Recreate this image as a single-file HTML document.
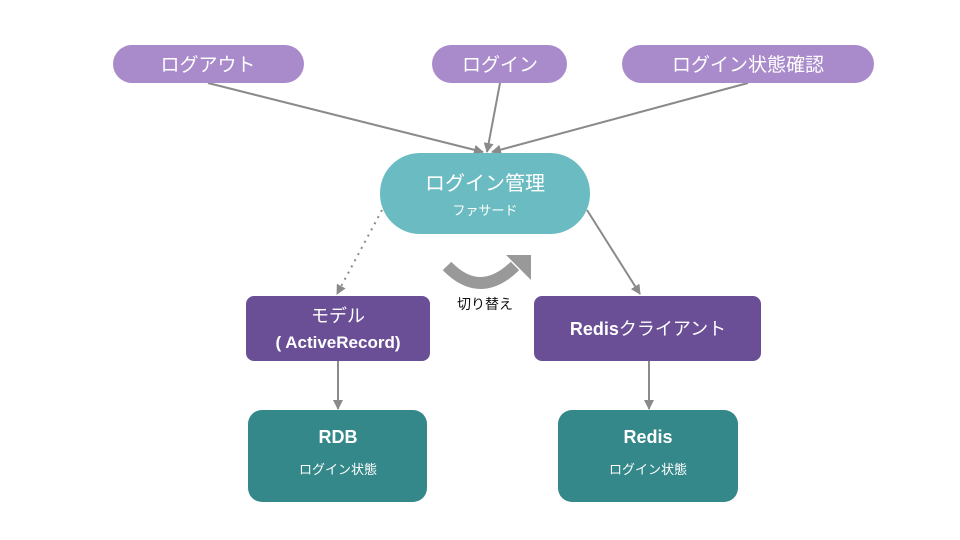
<!DOCTYPE html>
<html><head><meta charset="utf-8"><style>
html,body{margin:0;padding:0;background:#fff;}
svg{display:block;font-family:"Liberation Sans","Noto Sans CJK JP",sans-serif;}
</style></head><body>
<svg width="960" height="540" viewBox="0 0 960 540" xmlns="http://www.w3.org/2000/svg">
<defs>
<marker id="ah" markerWidth="10" markerHeight="10" refX="9" refY="5" orient="auto" markerUnits="userSpaceOnUse">
<path d="M0,0 L10,5 L0,10 z" fill="#8a8a8a"/>
</marker>
</defs>
<!-- connectors -->
<g stroke="#8a8a8a" stroke-width="2" fill="none">
<line x1="208" y1="83" x2="483" y2="152" marker-end="url(#ah)"/>
<line x1="500" y1="83" x2="487" y2="152" marker-end="url(#ah)"/>
<line x1="748" y1="83" x2="492" y2="152" marker-end="url(#ah)"/>
<line x1="382" y1="210" x2="337" y2="294" stroke-dasharray="2,5" marker-end="url(#ah)"/>
<line x1="587" y1="210" x2="640" y2="294" marker-end="url(#ah)"/>
<line x1="338" y1="361" x2="338" y2="409" marker-end="url(#ah)"/>
<line x1="649" y1="361" x2="649" y2="409" marker-end="url(#ah)"/>
</g>
<!-- top pills -->
<g fill="#a98bcb">
<rect x="113" y="45" width="191" height="38" rx="19"/>
<rect x="432" y="45" width="135" height="38" rx="19"/>
<rect x="622" y="45" width="252" height="38" rx="19"/>
</g>
<g fill="#fff" font-size="19" text-anchor="middle">
<text x="208" y="71">ログアウト</text>
<text x="500" y="71">ログイン</text>
<text x="748" y="71">ログイン状態確認</text>
</g>
<!-- facade -->
<rect x="380" y="153" width="210" height="81" rx="40" fill="#6bbcc2"/>
<text x="485" y="190" fill="#fff" font-size="20" text-anchor="middle">ログイン管理</text>
<text x="485" y="215" fill="#fff" font-size="13" text-anchor="middle">ファサード</text>
<!-- switch arrow -->
<path d="M447,266 Q480,300 515,266" stroke="#999" stroke-width="12" fill="none"/>
<path d="M506,255 L531,255 L531,280 z" fill="#999"/>
<text x="485" y="309" font-size="14" text-anchor="middle" fill="#111">切り替え</text>
<!-- middle boxes -->
<rect x="246" y="296" width="184" height="65" rx="8" fill="#6a4f97"/>
<text x="338" y="322" fill="#fff" font-size="18" text-anchor="middle">モデル</text>
<text x="338" y="348" fill="#fff" font-size="17" font-weight="bold" text-anchor="middle">( ActiveRecord)</text>
<rect x="534" y="296" width="227" height="65" rx="8" fill="#6a4f97"/>
<text x="648" y="335" fill="#fff" font-size="18" text-anchor="middle"><tspan font-weight="bold">Redis</tspan>クライアント</text>
<!-- bottom boxes -->
<rect x="248" y="410" width="179" height="92" rx="14" fill="#35888a"/>
<text x="338" y="443" fill="#fff" font-size="18" font-weight="bold" text-anchor="middle">RDB</text>
<text x="338" y="474" fill="#fff" font-size="13" text-anchor="middle">ログイン状態</text>
<rect x="558" y="410" width="180" height="92" rx="14" fill="#35888a"/>
<text x="648" y="443" fill="#fff" font-size="18" font-weight="bold" text-anchor="middle">Redis</text>
<text x="648" y="474" fill="#fff" font-size="13" text-anchor="middle">ログイン状態</text>
</svg>
</body></html>
